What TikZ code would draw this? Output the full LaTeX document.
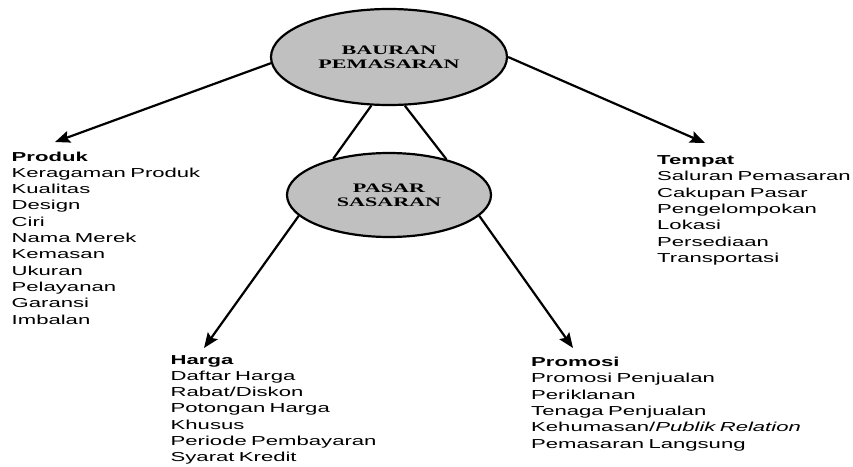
\documentclass[tikz,border=0pt]{standalone}
\usepackage{fontspec}
\usetikzlibrary{arrows.meta,shapes.geometric}
\newfontfamily\sansw[FakeStretch=1.7]{Liberation Sans}
\newfontfamily\serifw[FakeStretch=1.7]{Liberation Serif}
\definecolor{ellgray}{RGB}{192,192,192}
\begin{document}
\begin{tikzpicture}[x=1pt,y=-1pt,
  ell/.style={ellipse, draw, line width=2.2pt, fill=ellgray, inner sep=0pt, align=center,
    font=\serifw\bfseries\fontsize{13}{14}\selectfont},
  lst/.style={anchor=base west, inner sep=0pt, text width=400pt, align=left,
    font=\sansw\fontsize{13}{16.3}\selectfont},
  arr/.style={line width=2.2pt, -{Stealth[length=15pt,width=12pt,inset=2.5pt]}},
  con/.style={line width=2.2pt}]
\useasboundingbox (0,0) rectangle (853,466);
% ellipses
\node[ell, minimum width=236pt, minimum height=96pt] (bp) at (389,57) {BAURAN\\PEMASARAN};
\node[ell, minimum width=204pt, minimum height=84pt] (ps) at (389,195) {PASAR\\SASARAN};
% text blocks
\node[lst] (produk) at (11.5,161) {\textbf{Produk}\\Keragaman Produk\\Kualitas\\Design\\Ciri\\Nama Merek\\Kemasan\\Ukuran\\Pelayanan\\Garansi\\Imbalan};
\node[lst] (tempat) at (657,164.5) {\textbf{Tempat}\\Saluran Pemasaran\\Cakupan Pasar\\Pengelompokan\\Lokasi\\Persediaan\\Transportasi};
\node[lst] (harga) at (170.5,364) {\textbf{Harga}\\Daftar Harga\\Rabat/Diskon\\Potongan Harga\\Khusus\\Periode Pembayaran\\Syarat Kredit};
\node[lst] (promosi) at (531,366.5) {\textbf{Promosi}\\Promosi Penjualan\\Periklanan\\Tenaga Penjualan\\Kehumasan/\textit{Publik Relation}\\Pemasaran Langsung};
% arrow tips
\coordinate (tP) at (55,142);
\coordinate (tT) at (705,143);
\coordinate (tH) at (204,348);
\coordinate (tR) at (573,348);
% connectors
\draw[con] (bp.250) -- (ps.147);
\draw[con] (bp.288) -- (ps.32);
\draw[arr] (bp.183) -- (tP);
\draw[arr] (bp.0) -- (tT);
\draw[arr] (ps.193) -- (tH);
\draw[arr] (ps.347) -- (tR);
\end{tikzpicture}
\end{document}
